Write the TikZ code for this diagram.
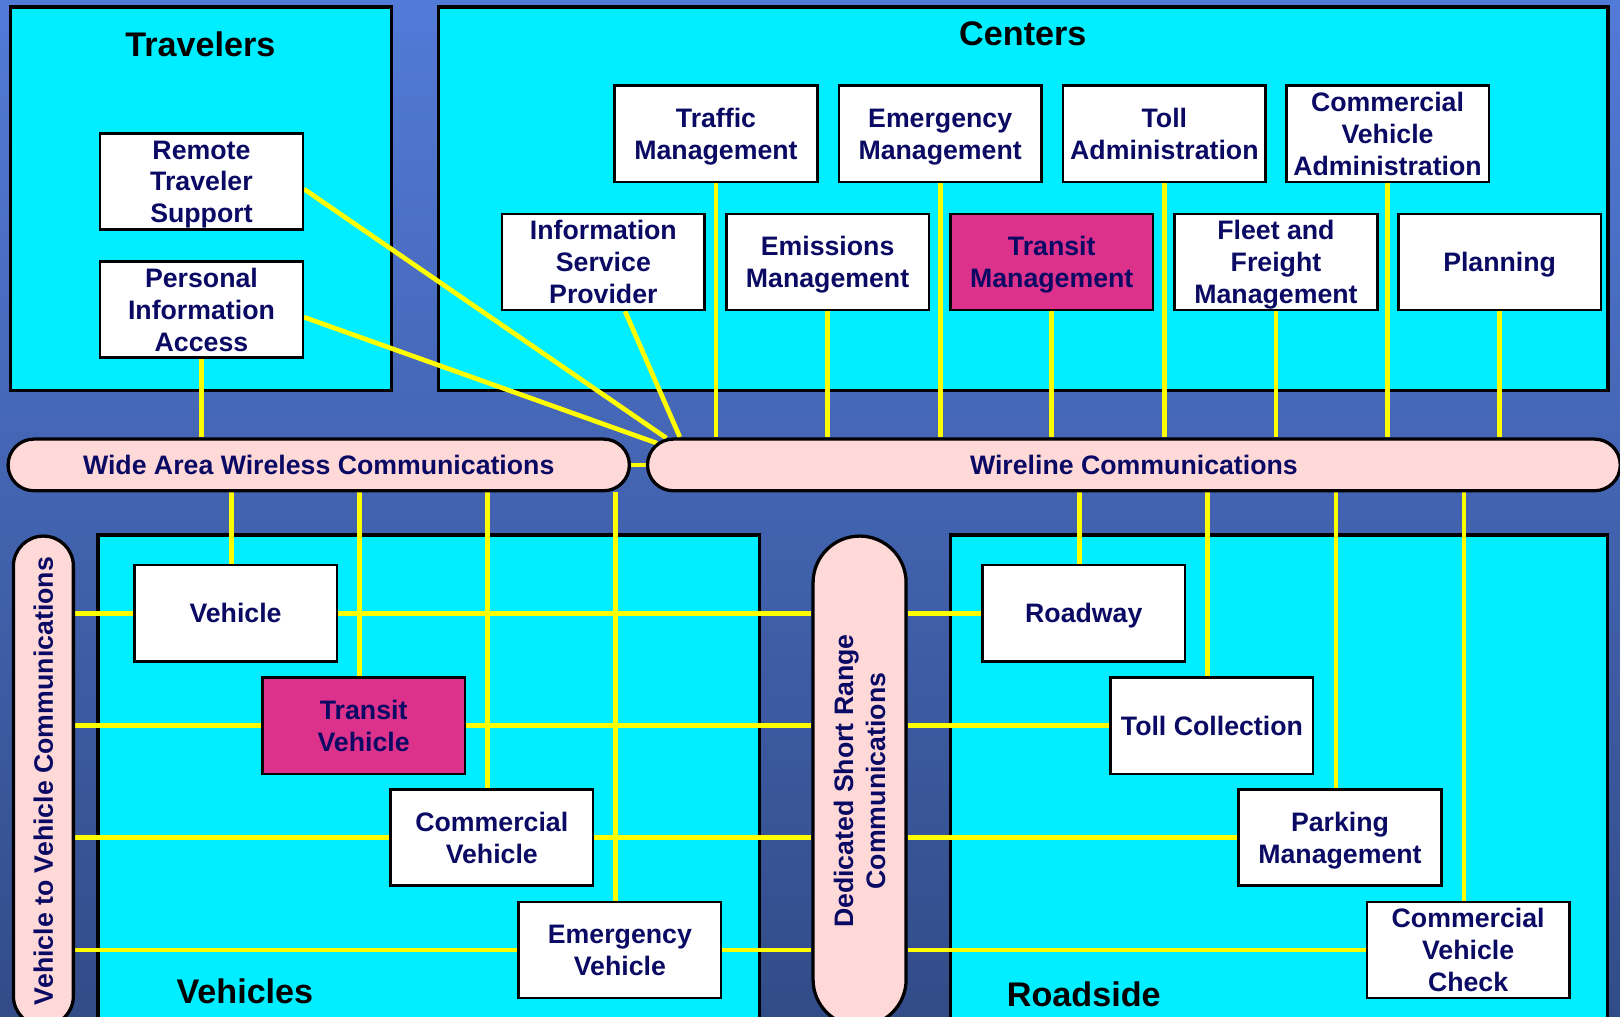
\documentclass[tikz,border=0pt]{standalone}
\usepackage{fontspec}
\setmainfont{Liberation Sans}
\definecolor{bgtop}{RGB}{82,122,215}
\definecolor{bgbot}{RGB}{50,76,136}
\definecolor{cyanp}{RGB}{0,238,255}
\definecolor{pinkb}{RGB}{255,216,216}
\definecolor{magb}{RGB}{220,50,140}
\definecolor{navy}{RGB}{10,10,100}
\definecolor{wirey}{RGB}{255,255,0}
\pgfdeclarelayer{bglayer}
\pgfdeclarelayer{panellayer}
\pgfdeclarelayer{linelayer}
\pgfsetlayers{bglayer,panellayer,linelayer,main}
\newcommand\bt[1]{\lower1.8pt\hbox{\vbox to 0pt{\vss\hbox{\begin{tabular}{@{}c@{}}#1\end{tabular}}\vss}}}
\begin{document}
\begin{tikzpicture}[x=0.01cm,y=-0.01cm,
 boxtext/.style={font=\fontsize{7.35}{8.8}\selectfont\bfseries, text=navy, align=center},
 box/.style={font=\fontsize{7.35}{8.8}\selectfont\bfseries, text=navy, draw=black, line width=0.7pt, fill=white, minimum width=1.96cm, minimum height=0.93cm, inner sep=0pt},
 hot/.style={box, fill=magb},
 panel/.style={draw=black, line width=0.9pt, fill=cyanp, inner sep=0pt, rectangle},
 title/.style={font=\fontsize{9.4}{11}\selectfont\bfseries, text=black, inner sep=0pt},
 hbar/.style={boxtext, draw=black, line width=0.9pt, fill=pinkb, minimum height=0.5cm, rounded corners=0.25cm, inner sep=0pt},
 vbar/.style={boxtext, draw=black, line width=0.9pt, fill=pinkb, rotate=90, inner sep=0pt, minimum width=4.74cm},
 wire/.style={draw=wirey, line width=1.3pt},
]
\useasboundingbox (0,0) rectangle (1568,984);
\begin{pgfonlayer}{bglayer}
\shade[top color=bgtop, bottom color=bgbot] (0,0) rectangle (1568,984);
\end{pgfonlayer}
\begin{pgfonlayer}{panellayer}
\node[panel, minimum width=3.69cm, minimum height=3.71cm] (trav) at (194.5,192.5) {};
\node[panel, minimum width=11.31cm, minimum height=3.71cm] (cent) at (990.5,192.5) {};
\node[panel, minimum width=6.40cm, minimum height=5.00cm] (vehs) at (415,768) {};
\node[panel, minimum width=6.36cm, minimum height=5.00cm] (road) at (1238,768) {};
\node[title] (travt) at (194,43) {Travelers};
\node[title] (centt) at (990,33) {Centers};
\node[title] (vehst) at (237,959) {Vehicles};
\node[title] (roadt) at (1049,962) {Roadside};
\end{pgfonlayer}

% communication bars
\node[hbar, minimum width=6.01cm] (waw) at (308.5,450) {Wide Area Wireless Communications};
\node[hbar, minimum width=9.41cm] (wl) at (1097.5,450) {Wireline Communications};
\node[vbar, minimum height=0.58cm, rounded corners=0.29cm] (v2v) at (42,756) {Vehicle to Vehicle Communications};
\node[vbar, minimum height=0.90cm, rounded corners=0.45cm] (dsrc) at (832,756) {Dedicated Short Range\\Communications};

% travelers
\node[box] (rts) at (195,175.5) {\bt{Remote\\Traveler\\Support}};
\node[box] (pia) at (195,299.5) {\bt{Personal\\Information\\Access}};
% centers
\node[box] (tm) at (693,129.5) {\bt{Traffic\\Management}};
\node[box] (em) at (910,129.5) {\bt{Emergency\\Management}};
\node[box] (ta) at (1127,129.5) {\bt{Toll\\Administration}};
\node[box] (cva) at (1343,129.5) {\bt{Commercial\\Vehicle\\Administration}};
\node[box] (isp) at (584,253.5) {\bt{Information\\Service\\Provider}};
\node[box] (es) at (801,253.5) {\bt{Emissions\\Management}};
\node[hot] (trm) at (1018,253.5) {\bt{Transit\\Management}};
\node[box] (ffm) at (1235,253.5) {\bt{Fleet and\\Freight\\Management}};
\node[box] (pl) at (1451.5,253.5) {\bt{Planning}};
% vehicles
\node[box] (veh) at (228,593.5) {\bt{Vehicle}};
\node[hot] (tv) at (352,702.5) {\bt{Transit\\Vehicle}};
\node[box] (cv) at (476,810.5) {\bt{Commercial\\Vehicle}};
\node[box] (ev) at (600,919.5) {\bt{Emergency\\Vehicle}};
% roadside
\node[box] (rw) at (1049,593.5) {\bt{Roadway}};
\node[box] (tc) at (1173,702.5) {\bt{Toll Collection}};
\node[box] (pm) at (1297,810.5) {\bt{Parking\\Management}};
\node[box] (cvc) at (1421,919.5) {\bt{Commercial\\Vehicle\\Check}};

\coordinate (p1) at (645,424);
\coordinate (p2) at (636,429);
\coordinate (p3) at (658,423);

\begin{pgfonlayer}{linelayer}
\foreach \c in {tm,em,ta,cva,es,trm,ffm,pl}
  \draw[wire] (\c.south) -- (\c.south |- wl.north);
\draw[wire] ([xshift=0.21cm]isp.south) -- (p3);
\draw[wire] ([yshift=-0.075cm]rts.east) -- (p1);
\draw[wire] ([yshift=-0.075cm]pia.east) -- (p2);
\draw[wire] (pia.south) -- (pia.south |- waw.north);
\draw[wire] (waw.east) -- (wl.west);
\foreach \c in {veh,tv,cv,ev}{
  \draw[wire] ([xshift=-0.04cm]\c.north) -- ([xshift=-0.04cm]\c.north |- waw.south);
  \draw[wire] (v2v.south |- \c) -- (dsrc.north |- \c);
}
\foreach \c in {rw,tc,pm,cvc}{
  \draw[wire] ([xshift=-0.04cm]\c.north) -- ([xshift=-0.04cm]\c.north |- wl.south);
  \draw[wire] (dsrc.south |- \c) -- (\c.west);
}
\end{pgfonlayer}
\end{tikzpicture}
\end{document}
